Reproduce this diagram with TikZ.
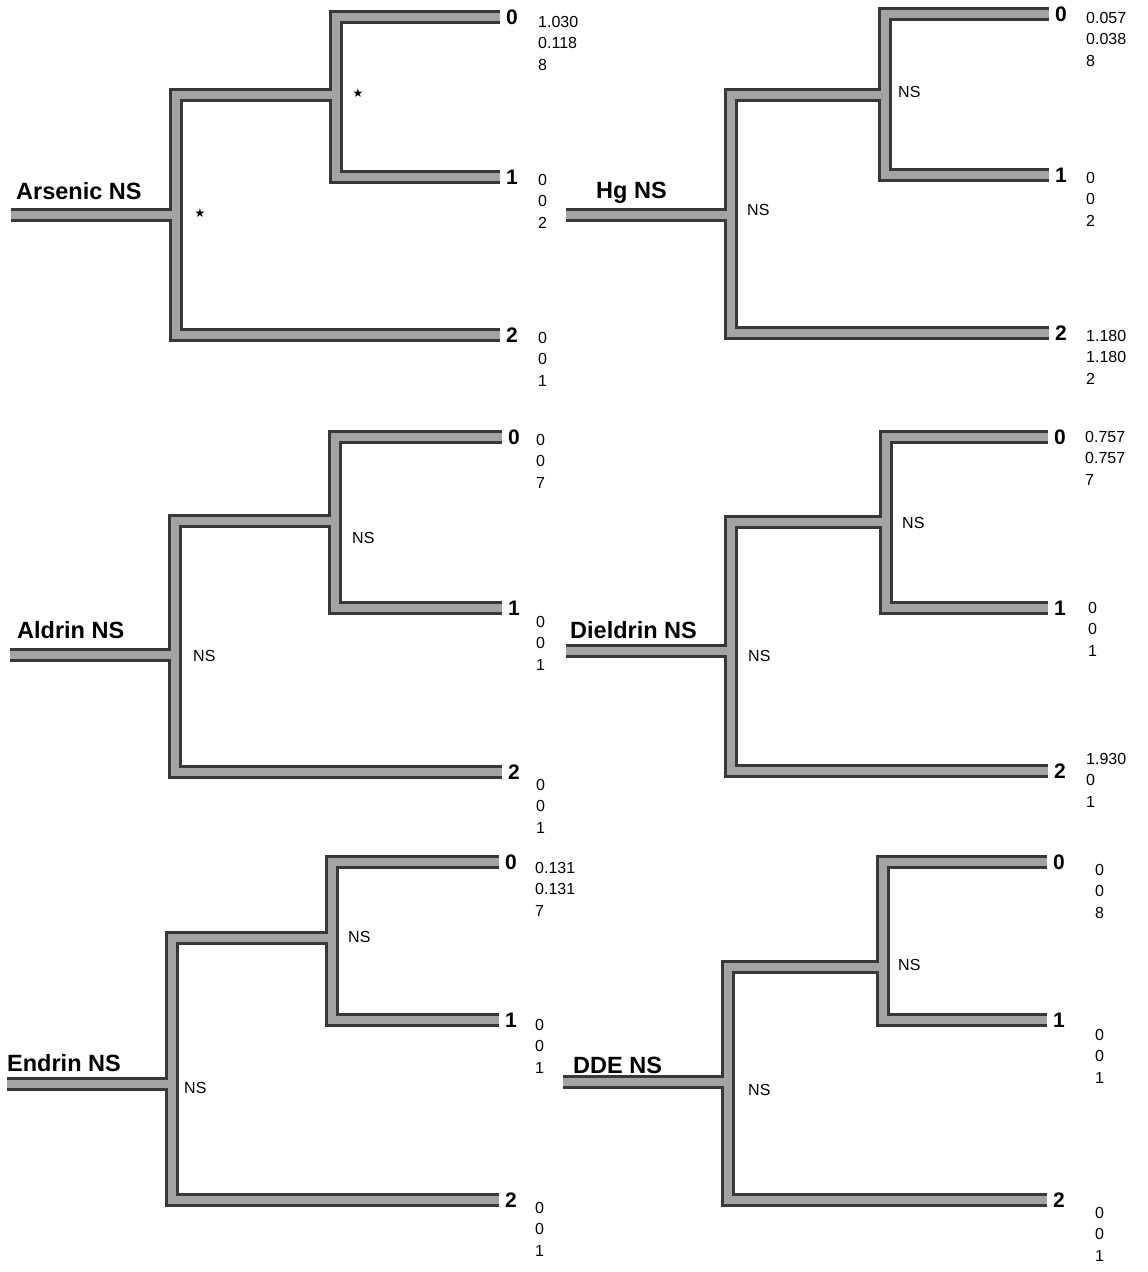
\documentclass[tikz,border=0pt]{standalone}
\usepackage{fontspec}
\setmainfont{Liberation Sans}
\newfontfamily\symfont{DejaVu Sans}

% one tree: id, root x, split x, end x, stem y, y of 0, split y, y of 1, y of 2
\newcommand\drawtree[9]{%
  \coordinate (#1-s) at ({#2-165},#5);
  \coordinate (#1-r) at (#2,#5);
  \coordinate (#1-rt) at (#2,#7);
  \coordinate (#1-rb) at (#2,#9);
  \coordinate (#1-m) at (#3,#7);
  \coordinate (#1-mt) at (#3,#6);
  \coordinate (#1-mb) at (#3,#8);
  \coordinate (#1-e0) at (#4,#6);
  \coordinate (#1-e1) at (#4,#8);
  \coordinate (#1-e2) at (#4,#9);
  \foreach \sty in {bardark,barlight}{
    \draw[\sty] (#1-s) -- (#1-r);
    \draw[\sty] (#1-m) -- (#1-rt) -- (#1-rb) -- (#1-e2);
    \draw[\sty] (#1-e0) -- (#1-mt) -- (#1-mb) -- (#1-e1);
  }
  \node[brlabel] (#1-l0) at ([xshift=6pt]#1-e0) {0};
  \node[brlabel] (#1-l1) at ([xshift=6pt]#1-e1) {1};
  \node[brlabel] (#1-l2) at ([xshift=6pt]#1-e2) {2};
}

\begin{document}
\begin{tikzpicture}[x=1pt,y=-1pt,
  bardark/.style={draw=black!78,line width=14pt,line join=miter},
  barlight/.style={draw=black!36,line width=8pt,line join=miter},
  brlabel/.style={anchor=west,inner sep=0pt,font=\fontsize{21}{21}\selectfont\bfseries},
  nums/.style={anchor=north west,align=left,inner sep=0pt,font=\fontsize{16}{21.5}\selectfont},
  title/.style={anchor=base west,inner sep=0pt,font=\fontsize{23.5}{23.5}\selectfont\bfseries},
  sig/.style={anchor=west,inner sep=0pt,font=\fontsize{16}{16}\selectfont},
  sigstar/.style={inner sep=0pt,font=\symfont\fontsize{12}{12}\selectfont}]
  \useasboundingbox[fill=white] (0,0) rectangle (1148,1272);

  % Arsenic
  \drawtree{ars}{176}{336}{500}{215}{17}{95}{177}{335}
  \node[title] (ars-t) at ([xshift=5pt,yshift=16pt]ars-s) {Arsenic NS};
  \node[sigstar] (ars-sm) at ([xshift=22pt,yshift=2pt]ars-m) {★};
  \node[sigstar] (ars-sr) at ([xshift=24pt,yshift=2pt]ars-r) {★};
  \node[nums] (ars-n0) at ([xshift=38pt,yshift=1pt]ars-e0) {1.030\\0.118\\8};
  \node[nums] (ars-n1) at ([xshift=38pt,yshift=3pt]ars-e1) {0\\0\\2};
  \node[nums] (ars-n2) at ([xshift=38pt,yshift=3pt]ars-e2) {0\\0\\1};

  % Hg
  \drawtree{hg}{731}{885}{1049}{215}{14}{95}{175}{333}
  \node[title] (hg-t) at ([xshift=30pt,yshift=17pt]hg-s) {Hg NS};
  \node[sig] (hg-sm) at ([xshift=13pt,yshift=3pt]hg-m) {NS};
  \node[sig] (hg-sr) at ([xshift=16pt,yshift=5pt]hg-r) {NS};
  \node[nums] (hg-n0) at ([xshift=37pt,yshift=2pt]hg-e0) {0.057\\0.038\\8};
  \node[nums] (hg-n1) at ([xshift=37pt,yshift=3pt]hg-e1) {0\\0\\2};
  \node[nums] (hg-n2) at ([xshift=37pt,yshift=3pt]hg-e2) {1.180\\1.180\\2};

  % Aldrin
  \drawtree{ald}{175}{335}{502}{655}{437}{521}{608}{772}
  \node[title] (ald-t) at ([xshift=7pt,yshift=17pt]ald-s) {Aldrin NS};
  \node[sig] (ald-sm) at ([xshift=17pt,yshift=-17pt]ald-m) {NS};
  \node[sig] (ald-sr) at ([xshift=18pt,yshift=-1pt]ald-r) {NS};
  \node[nums] (ald-n0) at ([xshift=34pt,yshift=3pt]ald-e0) {0\\0\\7};
  \node[nums] (ald-n1) at ([xshift=34pt,yshift=-8pt]ald-e1) {0\\0\\1};
  \node[nums] (ald-n2) at ([xshift=34pt,yshift=-7pt]ald-e2) {0\\0\\1};

  % Dieldrin
  \drawtree{die}{731}{886}{1048}{651}{437}{522}{608}{771}
  \node[title] (die-t) at ([xshift=4pt,yshift=13pt]die-s) {Dieldrin NS};
  \node[sig] (die-sm) at ([xshift=16pt,yshift=-1pt]die-m) {NS};
  \node[sig] (die-sr) at ([xshift=17pt,yshift=-5pt]die-r) {NS};
  \node[nums] (die-n0) at ([xshift=37pt,yshift=6pt]die-e0) {0.757\\0.757\\7};
  \node[nums] (die-n1) at ([xshift=40pt,yshift=6pt]die-e1) {0\\0\\1};
  \node[nums] (die-n2) at ([xshift=38pt,yshift=18pt]die-e2) {1.930\\0\\1};

  % Endrin
  \drawtree{end}{172}{332}{499}{1084}{862}{938}{1020}{1200}
  \node[title] (end-t) at ([xshift=0pt,yshift=13pt]end-s) {Endrin NS};
  \node[sig] (end-sm) at ([xshift=16pt,yshift=1pt]end-m) {NS};
  \node[sig] (end-sr) at ([xshift=12pt,yshift=-4pt]end-r) {NS};
  \node[nums] (end-n0) at ([xshift=36pt,yshift=0pt]end-e0) {0.131\\0.131\\7};
  \node[nums] (end-n1) at ([xshift=36pt,yshift=1pt]end-e1) {0\\0\\1};
  \node[nums] (end-n2) at ([xshift=36pt,yshift=-2pt]end-e2) {0\\0\\1};

  % DDE
  \drawtree{dde}{728}{883}{1047}{1082}{862}{967}{1020}{1200}
  \node[title] (dde-t) at ([xshift=10pt,yshift=9pt]dde-s) {DDE NS};
  \node[sig] (dde-sm) at ([xshift=15pt,yshift=2pt]dde-m) {NS};
  \node[sig] (dde-sr) at ([xshift=20pt,yshift=-8pt]dde-r) {NS};
  \node[nums] (dde-n0) at ([xshift=48pt,yshift=-2pt]dde-e0) {0\\0\\8};
  \node[nums] (dde-n1) at ([xshift=48pt,yshift=-9pt]dde-e1) {0\\0\\1};
  \node[nums] (dde-n2) at ([xshift=48pt,yshift=-7pt]dde-e2) {0\\0\\1};
\end{tikzpicture}
\end{document}
